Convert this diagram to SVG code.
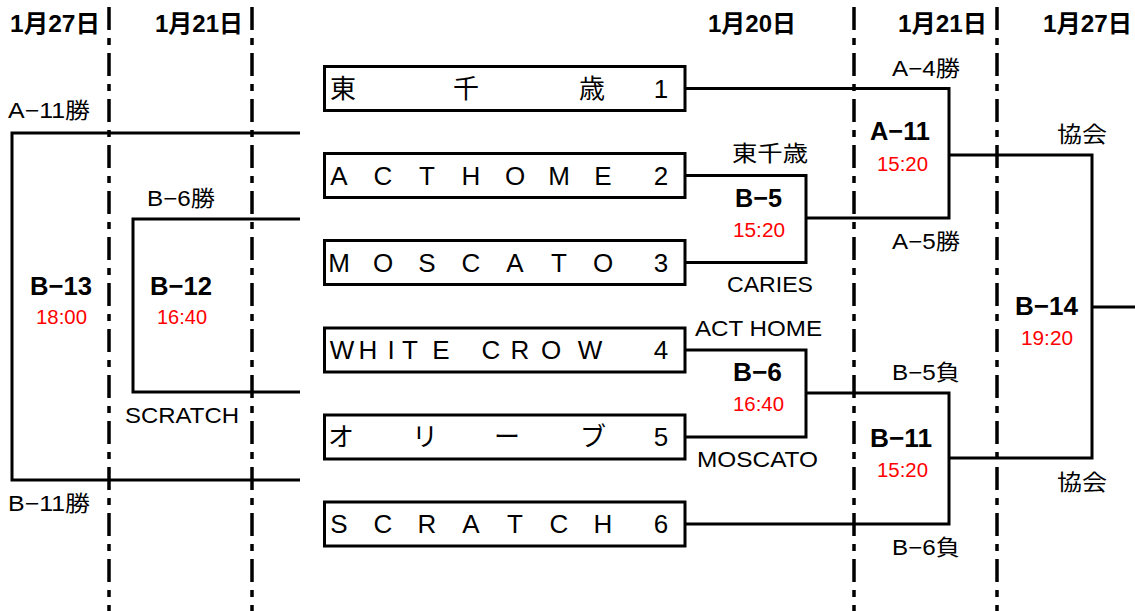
<svg xmlns="http://www.w3.org/2000/svg" width="1135" height="611" viewBox="0 0 1135 611">
<style>
text{font-family:"Liberation Sans","Noto Sans CJK JP",sans-serif;fill:#000}
.hd{font-size:24px;font-weight:bold}
.lb{font-size:22px}
.mt{font-size:26px;font-weight:bold}
.tm{font-size:20px;fill:#ff0000}
.bx{font-size:26px;text-anchor:middle}
.box{fill:#fff;stroke:#000;stroke-width:3}
.ln{fill:none;stroke:#000;stroke-width:3}
.dd{stroke:#000;stroke-width:3.5;stroke-dasharray:23 8 7 8}
</style>
<rect width="1135" height="611" fill="#fff"/>
<g id="date-lines">
<line class="dd" x1="109" y1="7" x2="109" y2="611"/>
<line class="dd" x1="252" y1="7" x2="252" y2="611"/>
<line class="dd" x1="854" y1="7" x2="854" y2="611"/>
<line class="dd" x1="997" y1="7" x2="997" y2="611"/>
</g>
<g id="headers">
<text class="hd" x="10" y="32" textLength="90" lengthAdjust="spacingAndGlyphs">1月27日</text>
<text class="hd" x="155" y="32" textLength="88" lengthAdjust="spacingAndGlyphs">1月21日</text>
<text class="hd" x="708" y="32" textLength="88" lengthAdjust="spacingAndGlyphs">1月20日</text>
<text class="hd" x="898" y="32" textLength="89" lengthAdjust="spacingAndGlyphs">1月21日</text>
<text class="hd" x="1043" y="32" textLength="89" lengthAdjust="spacingAndGlyphs">1月27日</text>
</g>
<g id="connectors">
<polyline class="ln" points="686,88.5 949,88.5 949,218 806,218"/>
<polyline class="ln" points="686,175.5 806,175.5 806,262.5 686,262.5"/>
<polyline class="ln" points="686,350 806,350 806,437 686,437"/>
<polyline class="ln" points="806,393 949,393 949,524 686,524"/>
<polyline class="ln" points="949,155 1092,155 1092,458 949,458"/>
<line class="ln" x1="1092" y1="307" x2="1135" y2="307"/>
<polyline class="ln" points="300,219 133,219 133,392 300,392"/>
<polyline class="ln" points="300,133 12,133 12,480 300,480"/>
</g>
<g id="team1"><rect class="box" x="324.5" y="66.5" width="360.5" height="44"/><text class="bx" x="343 466 592 661" y="98">東千歳1</text></g>
<g id="team2"><rect class="box" x="324.5" y="153.5" width="360.5" height="44"/><text class="bx" x="339 383 427 471 515 559 603 661" y="185">ACTHOME2</text></g>
<g id="team3"><rect class="box" x="324.5" y="240.5" width="360.5" height="44"/><text class="bx" x="339 383 427 471 515 559 603 661" y="272">MOSCATO3</text></g>
<g id="team4"><rect class="box" x="324.5" y="328" width="360.5" height="44"/><text class="bx" x="342 368 391 410 441 491 520 551 590 661" y="359">WHITECROW4</text></g>
<g id="team5"><rect class="box" x="324.5" y="415" width="360.5" height="44"/><text class="bx" x="341 425 507 593 661" y="446">オリーブ5</text></g>
<g id="team6"><rect class="box" x="324.5" y="502" width="360.5" height="44"/><text class="bx" x="339 383 427 471 515 559 603 661" y="533">SCRATCH6</text></g>
<g id="match-B5">
<text class="lb" x="732" y="161" textLength="76" lengthAdjust="spacingAndGlyphs">東千歳</text>
<text class="mt" x="735" y="207" textLength="47" lengthAdjust="spacingAndGlyphs">B−5</text>
<text class="tm" x="733" y="237" textLength="52" lengthAdjust="spacingAndGlyphs">15:20</text>
<text class="lb" x="727" y="292" textLength="86" lengthAdjust="spacingAndGlyphs">CARIES</text>
</g>
<g id="match-B6">
<text class="lb" x="695" y="336" textLength="127" lengthAdjust="spacingAndGlyphs">ACT HOME</text>
<text class="mt" x="733" y="381" textLength="49" lengthAdjust="spacingAndGlyphs">B−6</text>
<text class="tm" x="733" y="411" textLength="51" lengthAdjust="spacingAndGlyphs">16:40</text>
<text class="lb" x="697" y="467" textLength="121" lengthAdjust="spacingAndGlyphs">MOSCATO</text>
</g>
<g id="match-A11">
<text class="lb" x="892" y="76" textLength="68" lengthAdjust="spacingAndGlyphs">A−4勝</text>
<text class="mt" x="870" y="140" textLength="60" lengthAdjust="spacingAndGlyphs">A−11</text>
<text class="tm" x="877" y="171" textLength="51" lengthAdjust="spacingAndGlyphs">15:20</text>
<text class="lb" x="892" y="249" textLength="68" lengthAdjust="spacingAndGlyphs">A−5勝</text>
</g>
<g id="match-B11">
<text class="lb" x="892" y="380" textLength="68" lengthAdjust="spacingAndGlyphs">B−5負</text>
<text class="mt" x="870" y="447" textLength="62" lengthAdjust="spacingAndGlyphs">B−11</text>
<text class="tm" x="877" y="477" textLength="51" lengthAdjust="spacingAndGlyphs">15:20</text>
<text class="lb" x="892" y="555" textLength="68" lengthAdjust="spacingAndGlyphs">B−6負</text>
</g>
<g id="match-B14">
<text class="lb" x="1057" y="142" textLength="50" lengthAdjust="spacingAndGlyphs">協会</text>
<text class="mt" x="1015" y="315" textLength="63" lengthAdjust="spacingAndGlyphs">B−14</text>
<text class="tm" x="1021" y="345" textLength="52" lengthAdjust="spacingAndGlyphs">19:20</text>
<text class="lb" x="1057" y="490" textLength="50" lengthAdjust="spacingAndGlyphs">協会</text>
</g>
<g id="match-B12">
<text class="lb" x="147" y="206" textLength="68" lengthAdjust="spacingAndGlyphs">B−6勝</text>
<text class="mt" x="150" y="295" textLength="62" lengthAdjust="spacingAndGlyphs">B−12</text>
<text class="tm" x="157" y="324" textLength="50" lengthAdjust="spacingAndGlyphs">16:40</text>
<text class="lb" x="125" y="423" textLength="114" lengthAdjust="spacingAndGlyphs">SCRATCH</text>
</g>
<g id="match-B13">
<text class="lb" x="8" y="118" textLength="82" lengthAdjust="spacingAndGlyphs">A−11勝</text>
<text class="mt" x="30" y="295" textLength="62" lengthAdjust="spacingAndGlyphs">B−13</text>
<text class="tm" x="36" y="324" textLength="51" lengthAdjust="spacingAndGlyphs">18:00</text>
<text class="lb" x="8" y="511" textLength="82" lengthAdjust="spacingAndGlyphs">B−11勝</text>
</g>
</svg>
